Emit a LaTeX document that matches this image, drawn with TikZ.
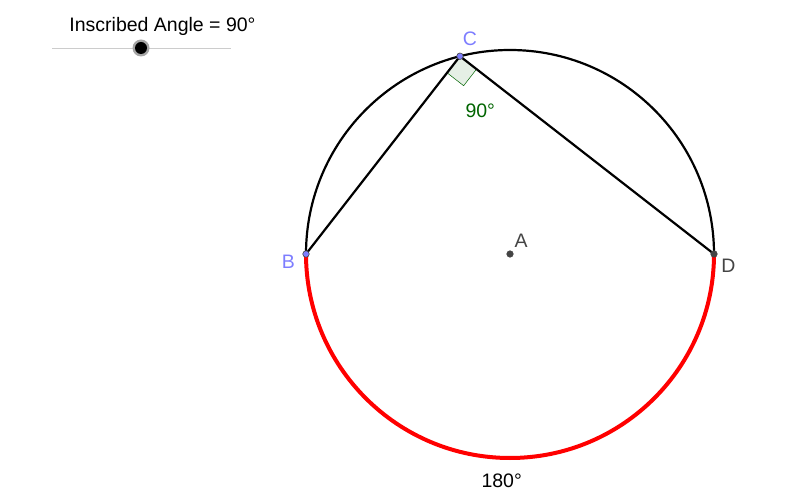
\documentclass[tikz,border=0pt]{standalone}
\usepackage{fontspec}
\setmainfont{Liberation Sans}
\usepackage{tikz}
\usetikzlibrary{calc}

\definecolor{ptblue}{RGB}{125,125,255}
\definecolor{ptgray}{RGB}{68,68,68}
\definecolor{anggreen}{RGB}{0,100,0}

\tikzset{
  lbl/.style={inner sep=0pt, anchor=base, font=\fontsize{19.5}{23}\selectfont},
  dot/.style={circle, inner sep=0pt, minimum size=6.5pt, draw=ptgray, line width=0.6pt},
}

\begin{document}
\begin{tikzpicture}[x=1pt,y=1pt]
\useasboundingbox (0,0) rectangle (802,490);

% Slider
\node[lbl] (title) at (162.5,458.3) {Inscribed Angle = 90°};
\coordinate (sl) at (52,442);
\coordinate (sr) at (231,442);
\draw[black!20, line width=0.8pt] (sl) -- (sr);
\node[circle, fill=black!35, minimum size=17pt, inner sep=0pt] (knobhalo) at (141,442) {};
\node[circle, fill=black, minimum size=12pt, inner sep=0pt] (knob) at (knobhalo) {};

% Circle
\coordinate (A) at (510,236);
\coordinate (B) at ($(A)+(180:204)$);
\coordinate (D) at ($(A)+(0:204)$);
\coordinate (C) at ($(A)+(104.2:204)$);
\draw[black, line width=2.2pt] (D) arc[start angle=0, end angle=180, radius=204];
\draw[red, line width=4pt] (B) arc[start angle=180, end angle=360, radius=204];

% Right angle at C
\coordinate (qb) at ($(C)!21pt!(B)$);
\coordinate (qd) at ($(C)!21pt!(D)$);
\draw[anggreen, fill=anggreen!10, line width=0.5pt] (C) -- (qb) -- ($(qb)+(qd)-(C)$) -- (qd) -- cycle;

% Chords
\draw[black, line width=2.2pt] (B) -- (C) -- (D);

% Points
\node[dot, fill=ptblue] (pB) at (B) {};
\node[dot, fill=ptblue] (pC) at (C) {};
\node[dot, fill=ptgray] (pD) at (D) {};
\node[dot, fill=ptgray] (pA) at (A) {};

% Labels
\node[lbl, text=ptblue] (labC) at (470,444.3) {C};
\node[lbl, text=ptblue] (labB) at (288.3,221.7) {B};
\node[lbl, text=ptgray] (labA) at (521,242.7) {A};
\node[lbl, text=ptgray] (labD) at (728.3,217.3) {D};
\node[lbl, text=anggreen] (ang) at (480.3,372.7) {90°};
\node[lbl] (arcval) at (501.7,2.7) {180°};
\end{tikzpicture}
\end{document}
